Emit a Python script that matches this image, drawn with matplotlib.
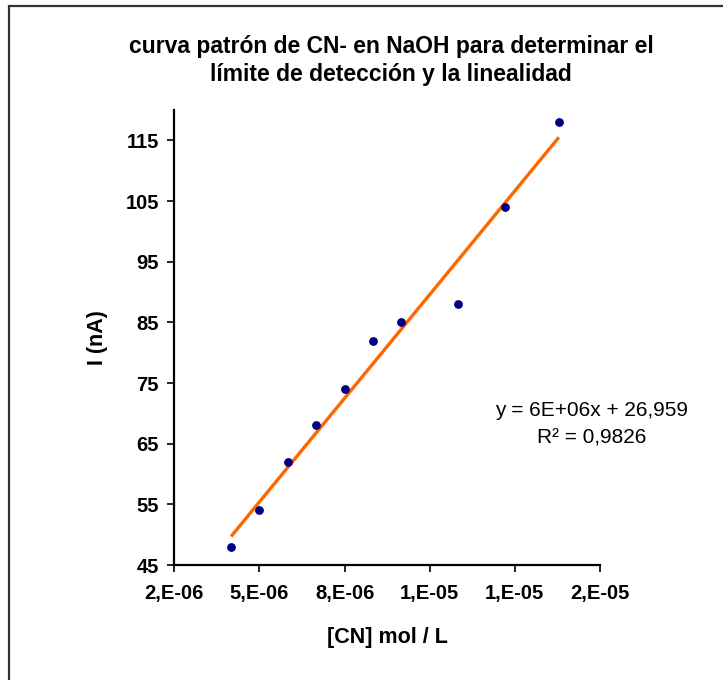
import numpy as np
import matplotlib
matplotlib.use("Agg")
import matplotlib.pyplot as plt
from matplotlib.ticker import FuncFormatter
from matplotlib.patches import Rectangle

# data
conc = [4.0e-6, 5.0e-6, 6.0e-6, 7.0e-6, 8.0e-6, 9.0e-6, 1.0e-5, 1.2e-5, 1.365e-5, 1.555e-5]
corr = [48, 54, 62, 68, 74, 82, 85, 88, 104, 118]
xticks = [2e-6, 5e-6, 8e-6, 1.1e-5, 1.4e-5, 1.7e-5]
yticks = [45, 55, 65, 75, 85, 95, 105, 115]

plt.rcParams['font.family'] = ['Liberation Sans', 'DejaVu Sans']

fig = plt.figure(figsize=(7.23, 6.8), dpi=100)
fig.patches.append(Rectangle((9 / 723, -0.1), 1.2, 1.1 - 6.5 / 680,
                             transform=fig.transFigure, fill=False,
                             edgecolor='#333333', lw=1.6))

axes = fig.add_axes([174.3 / 723, 1 - 565 / 680, (600 - 174.3) / 723, (565 - 110) / 680])

# trend line (linear fit)
m, b = np.polyfit(conc, corr, 1)
xl = np.array([min(conc), max(conc)])
axes.plot(xl, m * xl + b, color='#FF6600', lw=2.4, solid_capstyle='butt', zorder=2)
axes.plot(conc, corr, 'o', color='#000080', ms=5.3, zorder=3)

axes.set_xlim(2e-6, 1.7e-5)
axes.set_ylim(45, 120)
axes.set_xticks(xticks)
axes.set_yticks(yticks)
axes.xaxis.set_major_formatter(FuncFormatter(lambda v, p: f"{v:.0E}".replace('E', ',E')))
axes.spines['top'].set_visible(False)
axes.spines['right'].set_visible(False)
for s in ['left', 'bottom']:
    axes.spines[s].set_linewidth(1.6)
axes.tick_params(axis='both', direction='out', length=5, width=1.2, labelsize=14.5)
axes.tick_params(axis='y', pad=6)
axes.tick_params(axis='x', pad=9)
for lab in axes.get_xticklabels() + axes.get_yticklabels():
    lab.set_fontweight('bold')

fig.text(391 / 723, 1 - 47 / 680, 'curva patrón de CN- en NaOH para determinar el',
         ha='center', va='center', fontsize=16.5, fontweight='bold')
fig.text(391 / 723, 1 - 75 / 680, 'límite de detección y la linealidad',
         ha='center', va='center', fontsize=16.5, fontweight='bold')
fig.text(98 / 723, 1 - 338 / 680, 'I (nA)', rotation=90, ha='center', va='center',
         fontsize=15.5, fontweight='bold')
fig.text(387 / 723, 1 - 637 / 680, '[CN] mol / L', ha='center', va='center',
         fontsize=15.5, fontweight='bold')

fig.text(592 / 723, 1 - 411 / 680, 'y = 6E+06x + 26,959', ha='center', va='center', fontsize=15)
fig.text(592 / 723, 1 - 438 / 680, 'R² = 0,9826', ha='center', va='center', fontsize=15)

fig.savefig('out.png', dpi=100)
